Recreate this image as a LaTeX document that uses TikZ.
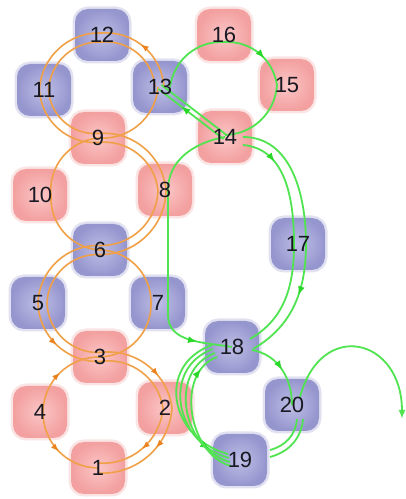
\documentclass[tikz,border=0pt]{standalone}
\usepackage{fontspec}
\setmainfont{Liberation Sans}
\usetikzlibrary{arrows.meta,decorations.markings}
\definecolor{pinkout}{RGB}{243,160,160}
\definecolor{pinkin}{RGB}{251,198,198}
\definecolor{blueout}{RGB}{150,150,207}
\definecolor{bluein}{RGB}{190,190,230}
\definecolor{orng}{RGB}{240,160,70}
\definecolor{orngd}{RGB}{235,130,30}
\definecolor{grn}{RGB}{80,228,80}
\definecolor{grnd}{RGB}{40,215,40}
\definecolor{txt}{RGB}{25,25,35}
\tikzset{
  box/.style={rounded corners=13pt, minimum width=54pt, minimum height=52pt, inner sep=0pt, line width=5pt},
  pbox/.style={box, inner color=pinkin, outer color=pinkout, draw=pinkout, draw opacity=0.28},
  bbox/.style={box, inner color=bluein, outer color=blueout, draw=blueout, draw opacity=0.28},
  lbl/.style={font=\fontsize{22}{22}\selectfont, text=txt, inner sep=0pt},
  oedge/.style={draw=orng, line width=1.6pt},
  gedge/.style={draw=grn, line width=1.8pt},
  omid/.style={postaction={decorate}, decoration={markings, mark=at position #1 with {\arrow[orngd]{Latex[length=8pt,width=6pt]}}}},
  gmid/.style={postaction={decorate}, decoration={markings, mark=at position #1 with {\arrow[grnd]{Latex[length=9pt,width=7pt]}}}}
}
\begin{document}
\begin{tikzpicture}[x=1pt,y=1pt]
\useasboundingbox (0,0) rectangle (406,499);
\fill[white] (0,0) rectangle (406,499);
% boxes
\node[pbox] (n1) at (98,31) {};
\node[pbox] (n2) at (165,91) {};
\node[pbox] (n3) at (100,142) {};
\node[pbox] (n4) at (40,87) {};
\node[bbox] (n5) at (38,196) {};
\node[bbox] (n6) at (100,249) {};
\node[bbox] (n7) at (158,196) {};
\node[pbox] (n8) at (165,309) {};
\node[pbox] (n9) at (98,361) {};
\node[pbox] (n10) at (40,304) {};
\node[bbox] (n11) at (44,409) {};
\node[bbox] (n12) at (102,464) {};
\node[bbox] (n13) at (160,412) {};
\node[pbox] (n14) at (225,362) {};
\node[pbox] (n15) at (287,414) {};
\node[pbox] (n16) at (224,464) {};
\node[bbox] (n17) at (298,255) {};
\node[bbox] (n18) at (232,152) {};
\node[bbox] (n19) at (240,39) {};
\node[bbox] (n20) at (292,94) {};
\coordinate (exitpt) at (402,80);
% ---- orange: circle 11-12-13-9
\draw[oedge] ([xshift=-4.5pt]n11.center) to[bend left=45] ([yshift=2pt]n12.center);
\draw[oedge] ([xshift=4.5pt]n11.center) to[bend left=45] ([yshift=-7pt]n12.center);
\draw[oedge, omid=0.55] ([xshift=4pt]n13.center) to[bend right=45] ([yshift=2pt]n12.center);
\draw[oedge] ([xshift=-5pt]n13.center) to[bend right=45] ([yshift=-7pt]n12.center);
\draw[oedge] ([xshift=-2pt]n13.center) to[bend left=45] (n9.center);
\draw[oedge] ([yshift=-4.5pt]n9.center) to[bend left=45] ([xshift=-4.5pt]n11.center);
\draw[oedge] ([yshift=4.5pt]n9.center) to[bend left=45] ([xshift=4.5pt]n11.center);
% ---- orange: circle 9-10-8-6
\draw[oedge] ([yshift=4.5pt]n9.center) to[bend left=45] ([xshift=1pt]n8.center);
\draw[oedge] ([yshift=-4.5pt]n9.center) to[bend left=45] ([xshift=-7pt]n8.center);
\draw[oedge] ([xshift=1pt]n8.center) to[bend left=45] ([yshift=-4.5pt]n6.center);
\draw[oedge] ([xshift=-7pt]n8.center) to[bend left=45] ([yshift=4.5pt]n6.center);
\draw[oedge] (n9.center) to[bend right=45] ([xshift=11pt]n10.center);
\draw[oedge] ([xshift=11pt]n10.center) to[bend right=45] (n6.center);
% ---- orange: circle 6-5-7-3
\draw[oedge] ([yshift=4.5pt]n6.center) to[bend right=45] ([xshift=0pt]n5.center);
\draw[oedge] ([yshift=-4.5pt]n6.center) to[bend right=45] ([xshift=9pt]n5.center);
\draw[oedge, omid=0.5] ([xshift=0pt]n5.center) to[bend right=45] ([yshift=-4.5pt]n3.center);
\draw[oedge] ([xshift=9pt]n5.center) to[bend right=45] ([yshift=4.5pt]n3.center);
\draw[oedge] (n6.center) to[bend left=45] ([xshift=-7pt]n7.center);
\draw[oedge] ([xshift=-7pt]n7.center) to[bend left=45] (n3.center);
% ---- orange: circle 3-4-2-1
\draw[oedge, omid=0.65] ([yshift=4.5pt]n3.center) to[bend left=45] ([xshift=7pt]n2.center);
\draw[oedge] ([yshift=-4.5pt]n3.center) to[bend left=45] ([xshift=-2pt]n2.center);
\draw[oedge, omid=0.4] ([xshift=7pt]n2.center) to[bend left=45] ([yshift=-5pt]n1.center);
\draw[oedge, omid=0.5] ([xshift=-2pt]n2.center) to[bend left=45] ([yshift=5pt]n1.center);
\draw[oedge, omid=0.5] ([xshift=3pt]n4.center) to[bend left=45] (n3.center);
\draw[oedge, omid=0.5] ([xshift=3pt]n4.center) to[bend right=45] (n1.center);
% ---- green: circle 13-16-15-14
\draw[gedge] ([xshift=10pt]n13.center) to[bend left=42] ([yshift=-7pt]n16.center);
\draw[gedge, gmid=0.6] ([yshift=-7pt]n16.center) to[bend left=42] ([xshift=-10pt]n15.center);
\draw[gedge] ([xshift=-10pt]n15.center) to[bend left=42] ([yshift=2pt]n14.center);
\draw[gedge, gmid=0.65] ([xshift=-1.5pt,yshift=-2pt]n14.center) -- ([xshift=-1.5pt,yshift=-2pt]n13.center);
\draw[gedge] ([xshift=1.5pt,yshift=2pt]n14.center) -- ([xshift=1.5pt,yshift=2pt]n13.center);
% ---- green: 14 -> 8 -> 7 -> 18
\draw[gedge] (n14.center) to[out=190,in=90] ([xshift=3pt]n8.center);
\draw[gedge] ([xshift=3pt]n8.center) -- ([xshift=10pt,yshift=-12pt]n7.center);
\draw[gedge, gmid=0.55] ([xshift=10pt,yshift=-12pt]n7.center) to[out=-90,in=170] (n18.center);
% ---- green: 14 -> 17 -> 18
\draw[gedge] ([xshift=18pt,yshift=0pt]n14.center) to[out=0,in=90] ([xshift=8pt]n17.center);
\draw[gedge, gmid=0.3] ([xshift=18pt,yshift=-8pt]n14.center) to[out=-5,in=90] ([xshift=-4pt]n17.center);
\draw[gedge] ([xshift=-4pt]n17.center) to[out=-90,in=30] ([xshift=18pt,yshift=8pt]n18.center);
\draw[gedge, gmid=0.42] ([xshift=8pt]n17.center) to[out=-90,in=30] ([xshift=21pt,yshift=-2pt]n18.center);
% ---- green: 18 -> 20 -> 19
\draw[gedge, gmid=0.5] ([xshift=20pt,yshift=-3pt]n18.center) to[out=-10,in=90] (n20.center);
\draw[gedge] ([xshift=5pt,yshift=-14pt]n20.center) to[out=-95,in=15] ([xshift=30pt,yshift=10pt]n19.center);
\draw[gedge] ([xshift=11pt,yshift=-14pt]n20.center) to[out=-95,in=15] ([xshift=30pt,yshift=3pt]n19.center);
% ---- green: 18 <-> 19 loops
\draw[gedge] ([xshift=-20pt,yshift=2pt]n18.center) to[out=200,in=165,looseness=1.40] ([xshift=-12pt,yshift=6pt]n19.center);
\draw[gedge, gmid=0.85] ([xshift=-19pt,yshift=-2pt]n18.center) to[out=200,in=165,looseness=1.30] ([xshift=-11pt,yshift=2pt]n19.center);
\draw[gedge] ([xshift=-10pt,yshift=-2pt]n19.center) to[out=165,in=200,looseness=1.17] ([xshift=-17pt,yshift=-6pt]n18.center);
\draw[gedge, gmid=0.85] ([xshift=-9pt,yshift=-6pt]n19.center) to[out=165,in=200,looseness=1.04] ([xshift=-15pt,yshift=-10pt]n18.center);
% ---- green: 20 -> out
\draw[gedge, -{Latex[length=9pt,width=7pt]}] ([xshift=8pt,yshift=8pt]n20.center) to[out=75,in=90,looseness=2] (exitpt);
% labels
\node[lbl] (t1) at (n1) {1};
\node[lbl] (t2) at (n2) {2};
\node[lbl] (t3) at (n3) {3};
\node[lbl] (t4) at (n4) {4};
\node[lbl] (t5) at (n5) {5};
\node[lbl] (t6) at (n6) {6};
\node[lbl] (t7) at (n7) {7};
\node[lbl] (t8) at (n8) {8};
\node[lbl] (t9) at (n9) {9};
\node[lbl] (t10) at (n10) {10};
\node[lbl] (t11) at (n11) {11};
\node[lbl] (t12) at (n12) {12};
\node[lbl] (t13) at (n13) {13};
\node[lbl] (t14) at (n14) {14};
\node[lbl] (t15) at (n15) {15};
\node[lbl] (t16) at (n16) {16};
\node[lbl] (t17) at (n17) {17};
\node[lbl] (t18) at (n18) {18};
\node[lbl] (t19) at (n19) {19};
\node[lbl] (t20) at (n20) {20};
\end{tikzpicture}
\end{document}
